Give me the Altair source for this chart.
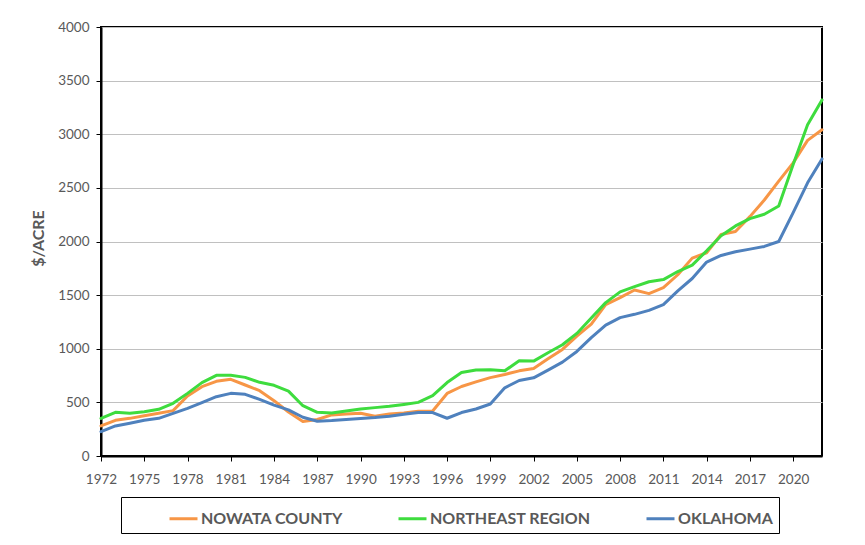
import altair as alt
import pandas as pd

years = list(range(1972, 2023))

nowata = [280, 333, 351, 376, 398, 423, 559, 646, 696, 715,
          662, 609, 516, 410, 321, 340, 383, 392, 398, 370,
          392, 401, 417, 420, 583, 648, 691, 731, 760, 794,
          816, 907, 994, 1118, 1230, 1411, 1477, 1548, 1514, 1570,
          1690, 1845, 1895, 2065, 2093, 2232, 2387, 2563, 2733, 2943,
          3042]

northeast = [351, 407, 398, 413, 435, 491, 584, 684, 752, 752,
             733, 687, 659, 605, 469, 407, 401, 420, 438, 451,
             463, 481, 500, 562, 685, 778, 802, 805, 794, 888,
             885, 963, 1037, 1143, 1287, 1430, 1530, 1579, 1625, 1645,
             1720, 1780, 1913, 2053, 2145, 2213, 2254, 2331, 2717, 3088,
             3320]

oklahoma = [227, 280, 305, 333, 351, 398, 444, 497, 553, 584,
            575, 528, 475, 430, 361, 324, 330, 340, 349, 358,
            370, 389, 405, 405, 352, 405, 438, 485, 636, 704,
            729, 801, 875, 975, 1103, 1221, 1290, 1321, 1358, 1411,
            1539, 1655, 1808, 1870, 1905, 1929, 1954, 2000, 2269, 2547,
            2770]

series_names = ["NOWATA COUNTY", "NORTHEAST REGION", "OKLAHOMA"]
series_colors = ["#F79646", "#3EDC3E", "#4F81BD"]
x_tick_values = list(range(1972, 2021, 3))
y_tick_values = list(range(0, 4001, 500))

rows = []
for name, vals in zip(series_names, [nowata, northeast, oklahoma]):
    for yr, v in zip(years, vals):
        rows.append({"year": yr, "value": v, "series": name})
df = pd.DataFrame(rows)

NB = "\u00a0"
label_expr = "datum.label == 'OKLAHOMA' ? datum.label + '" + NB * 6 + "' : datum.label"

chart = alt.Chart(df).mark_line(strokeWidth=3, strokeJoin="round", strokeCap="round").encode(
    x=alt.X("year:Q",
            scale=alt.Scale(domain=[1972, 2022], nice=False, zero=False),
            axis=alt.Axis(values=x_tick_values, format="d", title=None, grid=False,
                          domainColor="black", domainWidth=2,
                          tickColor="black", tickSize=5, tickWidth=1,
                          labelFont="Lato", labelFontSize=13.5, labelColor="#595959",
                          labelPadding=11, labelFlush=False, labelOverlap=False)),
    y=alt.Y("value:Q",
            scale=alt.Scale(domain=[0, 4000], nice=False),
            axis=alt.Axis(values=y_tick_values, format="d", title="$/ACRE", grid=True,
                          gridColor="#C0C0C0", gridWidth=1,
                          domainColor="black", domainWidth=2,
                          tickColor="black", tickSize=5, tickWidth=1,
                          labelFont="Lato", labelFontSize=13.5, labelColor="#595959",
                          labelPadding=7,
                          titleFont="Lato", titleFontSize=16, titleFontWeight="bold",
                          titleColor="#595959", titleAngle=270,
                          titleX=-63, titleY=211, titleAlign="center", titleBaseline="middle")),
    color=alt.Color("series:N",
                    scale=alt.Scale(domain=series_names, range=series_colors),
                    legend=alt.Legend(orient="none", legendX=20, legendY=470,
                                      direction="horizontal",
                                      title=NB, titleOrient="left", titlePadding=41,
                                      titleFont="Lato", titleFontSize=16,
                                      strokeColor="black", padding=6,
                                      symbolType="stroke", symbolSize=784,
                                      symbolStrokeWidth=3, columnPadding=49,
                                      labelFont="Lato", labelFontSize=16,
                                      labelFontWeight="bold", labelColor="#595959",
                                      labelOffset=2, labelLimit=500,
                                      labelExpr=label_expr))
).properties(
    width=721, height=429,
    padding={"left": 93, "top": 19, "right": 35, "bottom": 81},
    autosize=alt.AutoSizeParams(type="none")
).configure_view(
    stroke="black", strokeWidth=2
)

chart.save("out.html", embed_options={"renderer": "svg", "actions": False})
